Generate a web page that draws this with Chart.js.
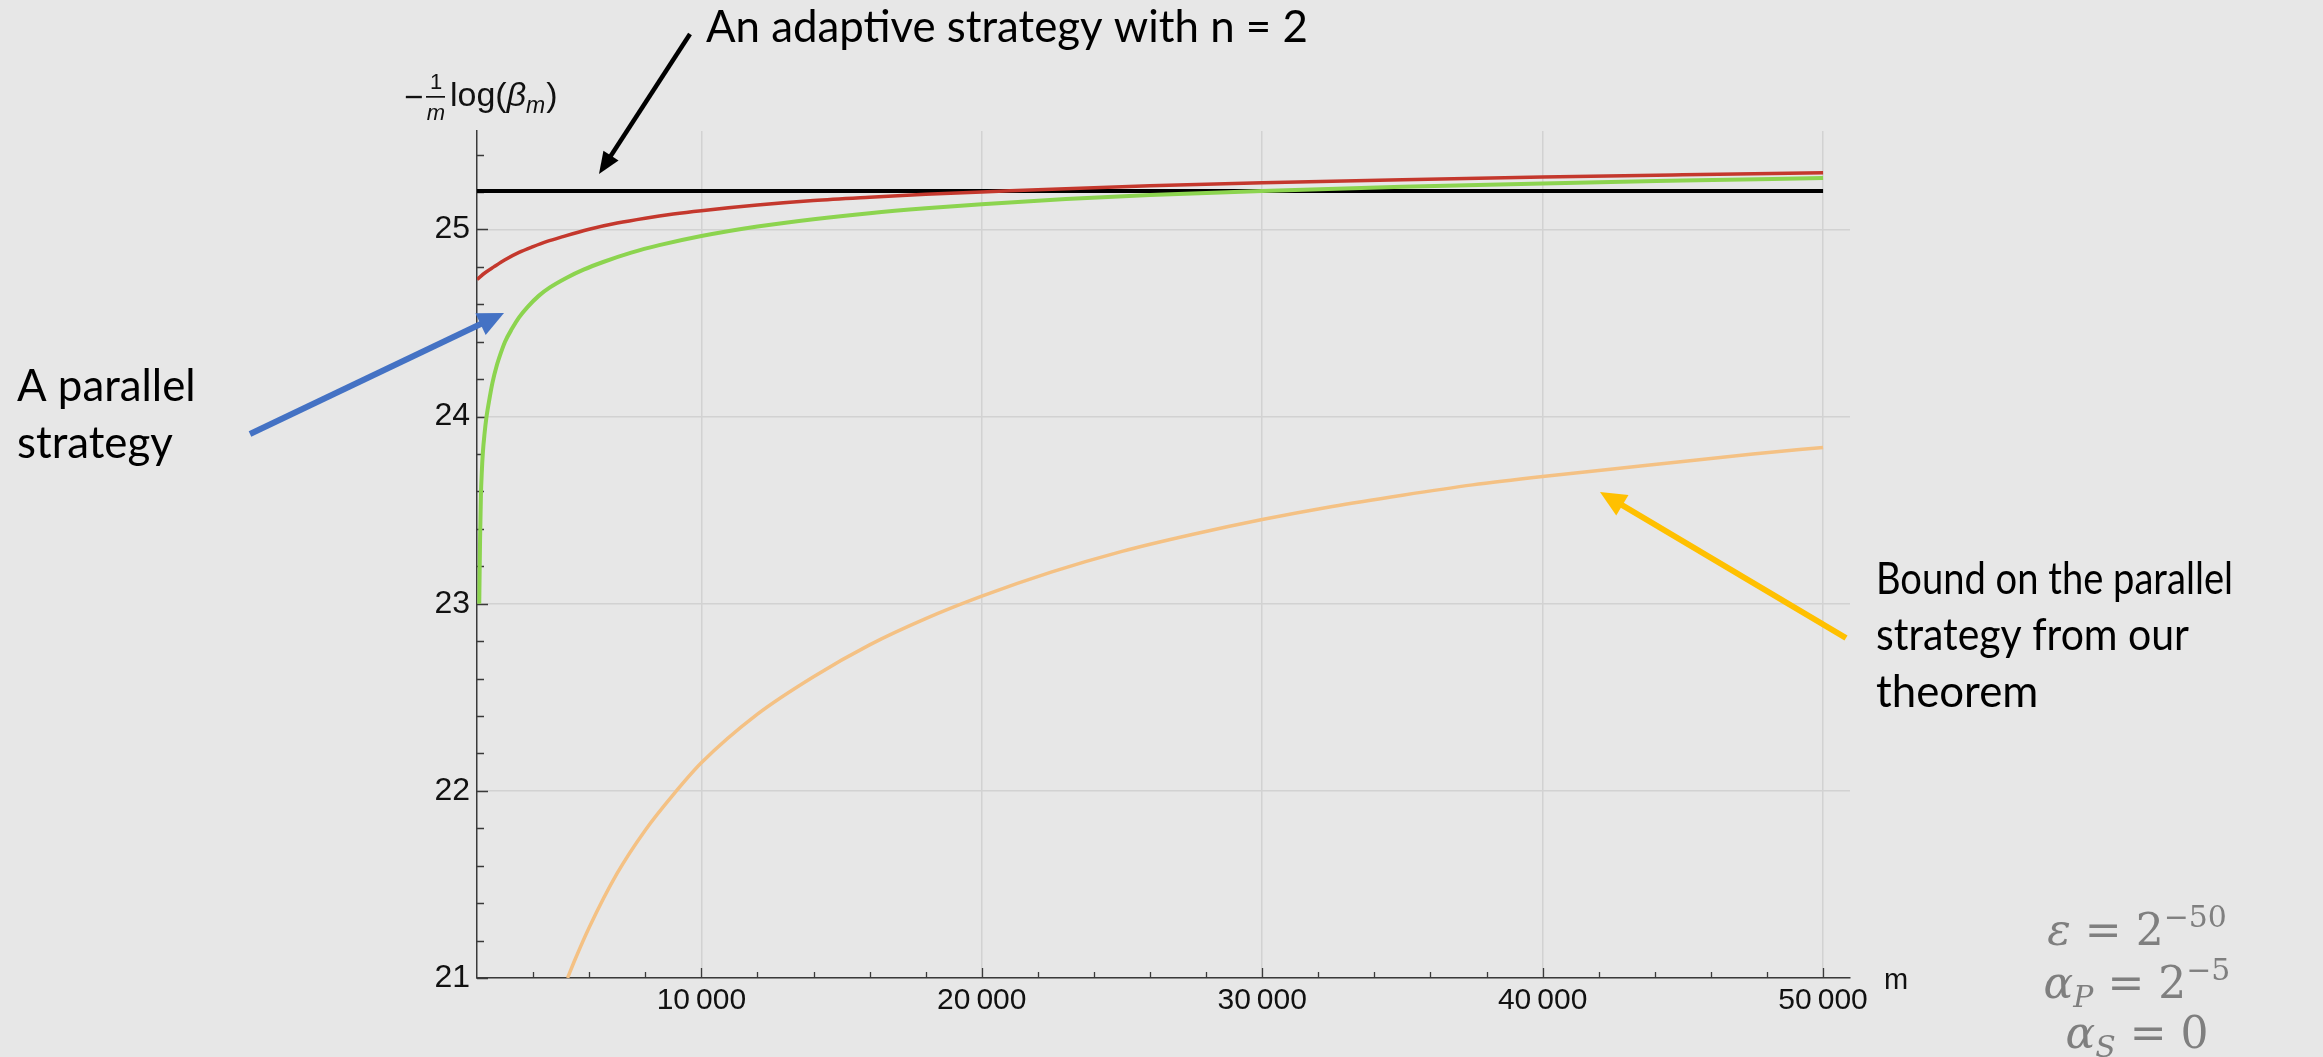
<!DOCTYPE html>
<html>
<head>
<meta charset="utf-8">
<title>−(1/m) log(β_m) versus m</title>
<script src="https://cdn.jsdelivr.net/npm/chart.js@4.4.1/dist/chart.umd.min.js"></script>
<style>
  html, body { margin: 0; padding: 0; background: #e7e7e7; overflow: hidden; }
  canvas { display: block; }
</style>
</head>
<body>
<canvas id="chart" width="2323" height="1057"></canvas>
<script>
// ---- tick positions -------------------------------------------------------
const mTicks = [2000, 4000, 6000, 8000, 10000, 12000, 14000, 16000, 18000, 20000,
                22000, 24000, 26000, 28000, 30000, 32000, 34000, 36000, 38000, 40000,
                42000, 44000, 46000, 48000, 50000];
const valueTicks = [21, 21.2, 21.4, 21.6, 21.8, 22, 22.2, 22.4, 22.6, 22.8,
                    23, 23.2, 23.4, 23.6, 23.8, 24, 24.2, 24.4, 24.6, 24.8,
                    25, 25.2, 25.4];

// ---- adaptive strategy with n = 2 (black, constant) ------------------------
const adaptiveM = [2000, 50000];
const adaptiveValue = [25.206, 25.206];

// ---- upper curve (red) -----------------------------------------------------
const upperM = [2000, 2300, 2600, 3000, 3500, 4000, 4500, 5000, 6000, 7000, 8000, 9000,
                10000, 12000, 14000, 16000, 18000, 20000, 23000, 26000, 30000, 35000,
                40000, 45000, 50000];
const upperValue = [24.733, 24.77, 24.80, 24.838, 24.877, 24.908, 24.936, 24.959, 25.001,
                    25.034, 25.06, 25.082, 25.10, 25.13, 25.154, 25.172, 25.188, 25.20,
                    25.218, 25.233, 25.249, 25.266, 25.28, 25.292, 25.303];

// ---- parallel strategy (green) ---------------------------------------------
const parallelM = [2080, 2095, 2110, 2140, 2170, 2210, 2270, 2340, 2450, 2550, 2700, 2850,
                   3000, 3250, 3500, 3800, 4200, 4600, 5200, 5800, 6500, 7500, 8500, 10000,
                   12000, 14000, 16000, 18000, 20000, 23000, 26000, 30000, 35000, 40000,
                   45000, 50000];
const parallelValue = [23.00, 23.18, 23.35, 23.58, 23.70, 23.81, 23.91, 24.00, 24.10, 24.18,
                       24.27, 24.34, 24.40, 24.47, 24.53, 24.585, 24.645, 24.69, 24.742, 24.785,
                       24.826, 24.876, 24.916, 24.965, 25.016, 25.055, 25.087, 25.113, 25.135,
                       25.162, 25.184, 25.206, 25.228, 25.246, 25.261, 25.275];

// ---- bound on the parallel strategy (orange) -------------------------------
const boundM = [5230, 5500, 6000, 7000, 8000, 9000, 10000, 12000, 14000, 16000, 18000,
                20000, 22500, 25000, 27500, 30000, 32500, 35000, 37500, 40000, 42500,
                45000, 47500, 50000];
const boundValue = [21.00, 21.10, 21.27, 21.56, 21.79, 21.98, 22.15, 22.41, 22.61, 22.78,
                    22.92, 23.04, 23.17, 23.28, 23.37, 23.45, 23.52, 23.58, 23.635, 23.68,
                    23.72, 23.76, 23.80, 23.835];

// ---- helpers ---------------------------------------------------------------
const pts = (xs, ys) => xs.map((x, i) => ({ x, y: ys[i] }));
const isWhole = v => Math.abs(v - Math.round(v)) < 1e-9;
const isMajorM = v => v % 10000 === 0;
const groupDigits = n => String(n).replace(/\B(?=(\d{3})+(?!\d))/g, '\u2009');

const AXIS_FONT = '"Liberation Sans", Arial, sans-serif';
const NOTE_FONT = 'Lato, "Open Sans", sans-serif';
const MATH_FONT = '"DejaVu Serif", serif';

Chart.defaults.font.family = AXIS_FONT;

function arrow(ctx, x0, y0, x1, y1, color, width, headLen, headHalf) {
  const a = Math.atan2(y1 - y0, x1 - x0);
  const c = Math.cos(a), s = Math.sin(a);
  const bx = x1 - headLen * c, by = y1 - headLen * s;
  ctx.strokeStyle = color;
  ctx.lineWidth = width;
  ctx.lineCap = 'butt';
  ctx.beginPath();
  ctx.moveTo(x0, y0);
  ctx.lineTo(bx + 2 * c, by + 2 * s);
  ctx.stroke();
  ctx.fillStyle = color;
  ctx.beginPath();
  ctx.moveTo(x1, y1);
  ctx.lineTo(bx - headHalf * s, by + headHalf * c);
  ctx.lineTo(bx + headHalf * s, by - headHalf * c);
  ctx.closePath();
  ctx.fill();
}

function mathLine(ctx, runs, cx, baseline, size) {
  const parts = runs.map(r => {
    const small = r.sup || r.sub;
    const fs = size * (small ? 0.68 : 1);
    const font = `${r.italic ? 'italic ' : ''}${fs}px ${MATH_FONT}`;
    ctx.font = font;
    return { t: r.t, font, w: ctx.measureText(r.t).width,
             dy: r.sup ? -0.42 * size : (r.sub ? 0.2 * size : 0) };
  });
  const total = parts.reduce((acc, p) => acc + p.w, 0);
  let x = cx - total / 2;
  ctx.textAlign = 'left';
  for (const p of parts) {
    ctx.font = p.font;
    ctx.fillText(p.t, x, baseline + p.dy);
    x += p.w;
  }
}

// ---- plugins ---------------------------------------------------------------
const background = {
  id: 'background',
  beforeDraw(chart) {
    const ctx = chart.ctx;
    ctx.save();
    ctx.fillStyle = '#e7e7e7';
    ctx.fillRect(0, 0, chart.width, chart.height);
    ctx.restore();
  }
};

// inward-pointing major and minor tick marks on both axes
const innerTicks = {
  id: 'innerTicks',
  beforeDatasetsDraw(chart) {
    const { ctx, chartArea: a, scales: { x, y } } = chart;
    ctx.save();
    ctx.strokeStyle = '#3a3a3a';
    ctx.lineWidth = 1.3;
    ctx.beginPath();
    for (const v of valueTicks) {
      const py = Math.round(y.getPixelForValue(v)) + 0.5;
      ctx.moveTo(a.left, py);
      ctx.lineTo(a.left + (isWhole(v) ? 11 : 7), py);
    }
    for (const v of mTicks) {
      if (v === x.min) continue;
      const px = Math.round(x.getPixelForValue(v)) + 0.5;
      ctx.moveTo(px, a.bottom);
      ctx.lineTo(px, a.bottom - (isMajorM(v) ? 10 : 6));
    }
    ctx.stroke();
    ctx.restore();
  }
};

const notes = {
  id: 'notes',
  afterDraw(chart) {
    const ctx = chart.ctx;
    ctx.save();
    ctx.textBaseline = 'alphabetic';

    // vertical axis title: −(1/m) log(β_m)
    ctx.fillStyle = '#111';
    ctx.textAlign = 'left';
    ctx.font = `33px ${AXIS_FONT}`;
    ctx.fillText('\u2212', 404, 108);
    ctx.textAlign = 'center';
    ctx.font = `22px ${AXIS_FONT}`;
    ctx.fillText('1', 436, 89);
    ctx.font = `italic 22px ${AXIS_FONT}`;
    ctx.fillText('m', 436, 120);
    ctx.fillRect(426, 96, 19, 1.7);
    ctx.textAlign = 'left';
    let x = 450;
    ctx.font = `34px ${AXIS_FONT}`;
    ctx.fillText('log(', x, 106); x += ctx.measureText('log(').width;
    ctx.font = `italic 34px ${AXIS_FONT}`;
    ctx.fillText('\u03b2', x, 106); x += ctx.measureText('\u03b2').width;
    ctx.font = `italic 23px ${AXIS_FONT}`;
    ctx.fillText('m', x, 113); x += ctx.measureText('m').width + 1;
    ctx.font = `34px ${AXIS_FONT}`;
    ctx.fillText(')', x, 106);

    // horizontal axis title
    ctx.font = `29px ${AXIS_FONT}`;
    ctx.fillText('m', 1884, 989);

    // annotation texts (each line kept within its width)
    const title = 'An adaptive strategy with n = 2';
    ctx.font = `100px ${NOTE_FONT}`;
    const noteSize = 100 * 602 / ctx.measureText(title).width;
    ctx.font = `${noteSize}px ${NOTE_FONT}`;
    ctx.fillStyle = '#000';
    ctx.fillText(title, 706, 42, 602);
    ctx.fillText('A parallel', 17, 401, 182);
    ctx.fillText('strategy', 17, 458, 157);
    ctx.fillText('Bound on the parallel', 1876, 594, 357);
    ctx.fillText('strategy from our', 1876, 650, 313);
    ctx.fillText('theorem', 1876, 707, 168);

    // arrows
    arrow(ctx, 690, 34, 599, 174, '#000000', 4.5, 22, 9);
    arrow(ctx, 250, 434, 504, 313, '#4472c4', 6, 26, 12);
    arrow(ctx, 1846, 638, 1600, 492, '#ffc000', 6, 26, 12);

    // parameters
    ctx.fillStyle = '#7f7f7f';
    mathLine(ctx, [{ t: '\u03b5', italic: true }, { t: ' = 2' }, { t: '\u221250', sup: true }], 2137, 945, 44);
    mathLine(ctx, [{ t: '\u03b1', italic: true }, { t: 'P', italic: true, sub: true }, { t: ' = 2' }, { t: '\u22125', sup: true }], 2137, 998, 44);
    mathLine(ctx, [{ t: '\u03b1', italic: true }, { t: 'S', italic: true, sub: true }, { t: ' = 0' }], 2137, 1048, 44);

    ctx.restore();
  }
};

// ---- chart -----------------------------------------------------------------
new Chart(document.getElementById('chart'), {
  type: 'line',
  data: {
    datasets: [
      { label: 'upper curve', data: pts(upperM, upperValue), borderColor: '#c4382d', borderWidth: 3.5 },
      { label: 'A parallel strategy', data: pts(parallelM, parallelValue), borderColor: '#8cd44f', borderWidth: 4 },
      { label: 'Bound on the parallel strategy from our theorem', data: pts(boundM, boundValue), borderColor: '#f4c184', borderWidth: 3.5 },
      { label: 'An adaptive strategy with n = 2', data: pts(adaptiveM, adaptiveValue), borderColor: '#000000', borderWidth: 4 }
    ]
  },
  options: {
    responsive: false,
    animation: false,
    devicePixelRatio: 1,
    elements: {
      point: { radius: 0, hoverRadius: 0 },
      line: { cubicInterpolationMode: 'monotone', fill: false }
    },
    layout: { padding: { left: 0, top: 131, right: 473, bottom: 0 } },
    plugins: { legend: { display: false }, tooltip: { enabled: false } },
    scales: {
      x: {
        type: 'linear',
        bounds: 'data',
        min: 2000,
        max: 50960,
        afterBuildTicks: s => { s.ticks = mTicks.map(v => ({ value: v })); },
        afterFit: s => { s.height = 79; },
        ticks: {
          autoSkip: false, maxRotation: 0, minRotation: 0, padding: 5,
          color: '#111', font: { size: 30 },
          callback: v => (isMajorM(v) ? groupDigits(v) : '')
        },
        grid: {
          drawTicks: false, lineWidth: 1.5,
          color: c => (c.tick && isMajorM(c.tick.value) ? '#d2d2d2' : 'rgba(0,0,0,0)')
        },
        border: { display: true, color: '#3a3a3a', width: 1.5 }
      },
      y: {
        type: 'linear',
        bounds: 'data',
        min: 21,
        max: 25.526,
        afterBuildTicks: s => { s.ticks = valueTicks.map(v => ({ value: v })); },
        afterFit: s => { s.width = 477; },
        ticks: {
          autoSkip: false, padding: 7,
          color: '#111', font: { size: 32 },
          callback: v => (isWhole(v) ? String(Math.round(v)) : '')
        },
        grid: {
          drawTicks: false, lineWidth: 1.5,
          color: c => (c.tick && isWhole(c.tick.value) ? '#d2d2d2' : 'rgba(0,0,0,0)')
        },
        border: { display: true, color: '#3a3a3a', width: 1.5 }
      }
    }
  },
  plugins: [background, innerTicks, notes]
});
</script>
</body>
</html>
